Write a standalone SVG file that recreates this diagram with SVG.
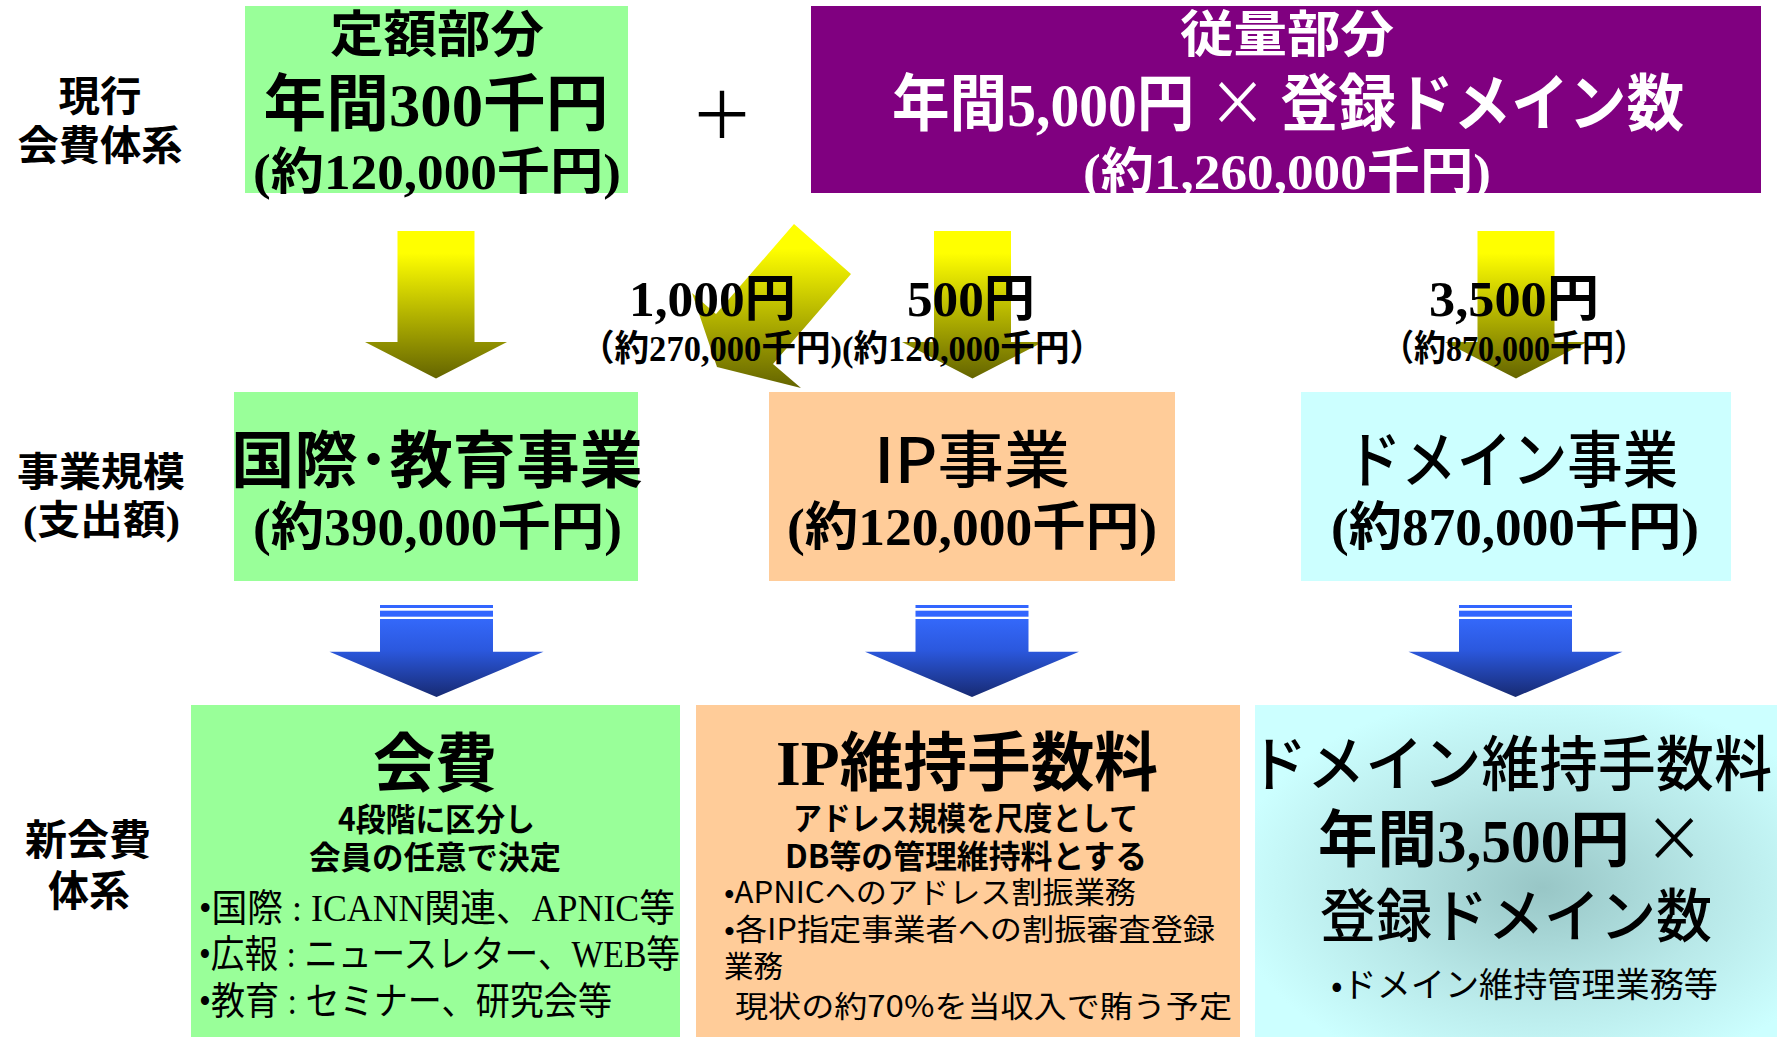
<svg xmlns="http://www.w3.org/2000/svg" width="1784" height="1037" viewBox="0 0 1784 1037">
<style>
.b{font-family:'Liberation Serif','Noto Sans CJK JP',serif;font-weight:bold;fill:#000}
.r{font-family:'Liberation Serif','Noto Sans CJK JP',serif;font-weight:normal;fill:#000}
.sb{font-family:'Noto Sans CJK JP','Liberation Sans',sans-serif;font-weight:bold;fill:#000}
.sm{font-family:'Noto Sans CJK JP','Liberation Sans',sans-serif;font-weight:500;fill:#000}
.s{font-family:'Noto Sans CJK JP','Liberation Sans',sans-serif;font-weight:normal;fill:#000}
.x{font-family:'Noto Sans CJK JP',sans-serif;font-weight:normal}
.m{text-anchor:middle}
.w{fill:#fff}
.green{fill:#99FF99}
.orange{fill:#FFCC99}
.cyan{fill:#CCFFFF}
.purple{fill:#800080}
.ya{fill:url(#yg)}
.ba{fill:url(#bg)}
.st{fill:#3366FF}
</style>
<defs>
<linearGradient id="yg" x1="0" y1="0" x2="0" y2="1">
<stop offset="0" stop-color="#FFFF00"/>
<stop offset="0.15" stop-color="#FFFF00"/>
<stop offset="1" stop-color="#646400"/>
</linearGradient>
<linearGradient id="ygd" gradientUnits="userSpaceOnUse" x1="0" y1="224" x2="0" y2="388">
<stop offset="0" stop-color="#FFFF00"/>
<stop offset="0.15" stop-color="#FFFF00"/>
<stop offset="1" stop-color="#646400"/>
</linearGradient>
<linearGradient id="bg" x1="0" y1="0" x2="0" y2="1">
<stop offset="0" stop-color="#3468FA"/>
<stop offset="0.4" stop-color="#2B58DE"/>
<stop offset="1" stop-color="#172A72"/>
</linearGradient>
<radialGradient id="cg" cx="0.55" cy="0.55" r="0.6">
<stop offset="0" stop-color="#98C6C6"/>
<stop offset="0.55" stop-color="#B8E8E8"/>
<stop offset="1" stop-color="#CCFFFF"/>
</radialGradient>
</defs>
<rect width="1784" height="1037" fill="#fff"/>

<g id="row-labels">
<text class="b m" x="100" y="111" font-size="41" textLength="83" lengthAdjust="spacingAndGlyphs">現行</text>
<text class="b m" x="100" y="160" font-size="41" textLength="165" lengthAdjust="spacingAndGlyphs">会費体系</text>
<text class="b m" x="101" y="486" font-size="40" textLength="168" lengthAdjust="spacingAndGlyphs">事業規模</text>
<text class="b m" x="101.5" y="534" font-size="40" textLength="157" lengthAdjust="spacingAndGlyphs">(支出額)</text>
<text class="b m" x="88" y="855" font-size="42" textLength="126" lengthAdjust="spacingAndGlyphs">新会費</text>
<text class="b m" x="89" y="906" font-size="42" textLength="82" lengthAdjust="spacingAndGlyphs">体系</text>
</g>

<g id="node-fixed">
<rect class="green" x="245" y="6" width="383" height="187"/>
<text class="b m" x="437" y="52" font-size="50" textLength="214" lengthAdjust="spacingAndGlyphs">定額部分</text>
<text class="b m" x="436" y="126" font-size="62" textLength="345" lengthAdjust="spacingAndGlyphs">年間300千円</text>
<text class="b m" x="437" y="189" font-size="50" textLength="368" lengthAdjust="spacingAndGlyphs">(約120,000千円)</text>
</g>

<g id="plus">
<text class="s m" x="722" y="138" font-size="64">＋</text>
</g>

<g id="node-variable">
<rect class="purple" x="811" y="6" width="950" height="187"/>
<text class="b m w" x="1287" y="52" font-size="50" textLength="214" lengthAdjust="spacingAndGlyphs">従量部分</text>
<text class="b m w" x="1288" y="126" font-size="62" textLength="792" lengthAdjust="spacingAndGlyphs">年間5,000円 <tspan class="x">×</tspan> 登録ドメイン数</text>
<text class="b m w" x="1287" y="189" font-size="50" textLength="408" lengthAdjust="spacingAndGlyphs">(約1,260,000千円)</text>
</g>

<g id="connectors">
<path class="ya" d="M397.5,231 H474.5 V342 H507 L436,378.5 L365,342 H397.5 Z"/>
<path fill="url(#ygd)" d="M794,224 L851,274 L773,364 L801,388 L717,367 L692,293 L716,314 Z"/>
<path class="ya" d="M934,231 H1011 V342 H1043 L972.5,378.5 L902,342 H934 Z"/>
<path class="ya" d="M1477.5,231 H1554.5 V342 H1587 L1516,378.5 L1445,342 H1477.5 Z"/>

<rect class="st" x="380" y="605" width="113" height="3"/>
<rect class="st" x="380" y="610.7" width="113" height="6"/>
<path class="ba" d="M380,619 H493 V651.7 H543.5 L436.5,697 L329.5,651.7 H380 Z"/>
<rect class="st" x="915.5" y="605" width="113" height="3"/>
<rect class="st" x="915.5" y="610.7" width="113" height="6"/>
<path class="ba" d="M915.5,619 H1028.5 V651.7 H1079 L972,697 L865,651.7 H915.5 Z"/>
<rect class="st" x="1459" y="605" width="113" height="3"/>
<rect class="st" x="1459" y="610.7" width="113" height="6"/>
<path class="ba" d="M1459,619 H1572 V651.7 H1622.5 L1515.5,697 L1408.5,651.7 H1459 Z"/>

<text class="b m" x="712.5" y="316" font-size="50" textLength="167" lengthAdjust="spacingAndGlyphs">1,000円</text>
<text class="b m" x="971" y="316" font-size="50" textLength="128" lengthAdjust="spacingAndGlyphs">500円</text>
<text class="b m" x="1514" y="316" font-size="50" textLength="170" lengthAdjust="spacingAndGlyphs">3,500円</text>
<text class="b m" x="842" y="361" font-size="36" textLength="524" lengthAdjust="spacingAndGlyphs">（約270,000千円)(約120,000千円）</text>
<text class="b m" x="1514" y="361" font-size="36" textLength="264" lengthAdjust="spacingAndGlyphs">（約870,000千円）</text>
</g>

<g id="node-intl">
<rect class="green" x="234" y="392" width="404" height="189"/>
<text class="sb m" x="437" y="483" font-size="62" textLength="412" lengthAdjust="spacingAndGlyphs">国際･教育事業</text>
<text class="b m" x="437.5" y="545" font-size="52" textLength="369" lengthAdjust="spacingAndGlyphs">(約390,000千円)</text>
</g>

<g id="node-ip">
<rect class="orange" x="769" y="392" width="406" height="189"/>
<text class="sm m" x="972" y="483" font-size="62" textLength="196" lengthAdjust="spacingAndGlyphs">IP事業</text>
<text class="b m" x="972" y="545" font-size="52" textLength="370" lengthAdjust="spacingAndGlyphs">(約120,000千円)</text>
</g>

<g id="node-domain">
<rect class="cyan" x="1301" y="392" width="430" height="189"/>
<text class="sm m" x="1512" y="483" font-size="62" textLength="332" lengthAdjust="spacingAndGlyphs">ドメイン事業</text>
<text class="b m" x="1515" y="545" font-size="52" textLength="368" lengthAdjust="spacingAndGlyphs">(約870,000千円)</text>
</g>

<g id="node-fee">
<rect class="green" x="191" y="705" width="489" height="332"/>
<text class="sb m" x="435" y="786" font-size="64" textLength="124" lengthAdjust="spacingAndGlyphs">会費</text>
<text class="sb m" x="436.5" y="831" font-size="32" textLength="197" lengthAdjust="spacingAndGlyphs">4段階に区分し</text>
<text class="sb m" x="435" y="869" font-size="32" textLength="252" lengthAdjust="spacingAndGlyphs">会員の任意で決定</text>
<text class="r" x="199" y="921" font-size="38" textLength="476" lengthAdjust="spacingAndGlyphs">•国際 : ICANN関連、APNIC等</text>
<text class="r" x="199" y="967" font-size="38" textLength="481" lengthAdjust="spacingAndGlyphs">•広報 : ニュースレター、WEB等</text>
<text class="r" x="199" y="1014" font-size="38" textLength="413" lengthAdjust="spacingAndGlyphs">•教育 : セミナー、研究会等</text>
</g>

<g id="node-ipfee">
<rect class="orange" x="696" y="705" width="544" height="332"/>
<text class="b m" x="967" y="785" font-size="64" textLength="382" lengthAdjust="spacingAndGlyphs">IP維持手数料</text>
<text class="sb m" x="965.5" y="830" font-size="32" textLength="345" lengthAdjust="spacingAndGlyphs">アドレス規模を尺度として</text>
<text class="sb m" x="966" y="868" font-size="32" textLength="362" lengthAdjust="spacingAndGlyphs">DB等の管理維持料とする</text>
<text class="s" x="724" y="903" font-size="30" textLength="412" lengthAdjust="spacingAndGlyphs">•APNICへのアドレス割振業務</text>
<text class="s" x="724" y="940" font-size="30" textLength="491" lengthAdjust="spacingAndGlyphs">•各IP指定事業者への割振審査登録</text>
<text class="s" x="724" y="977" font-size="30" textLength="59" lengthAdjust="spacingAndGlyphs">業務</text>
<text class="s" x="735" y="1017" font-size="30" textLength="497" lengthAdjust="spacingAndGlyphs">現状の約70%を当収入で賄う予定</text>
</g>

<g id="node-domainfee">
<rect fill="url(#cg)" x="1255" y="705" width="522" height="332"/>
<text class="sm m" x="1510.5" y="786" font-size="60" textLength="523" lengthAdjust="spacingAndGlyphs">ドメイン維持手数料</text>
<text class="b m" x="1511" y="862" font-size="62" textLength="386" lengthAdjust="spacingAndGlyphs">年間3,500円 <tspan class="x">×</tspan></text>
<text class="sm m" x="1516" y="937" font-size="58" textLength="392" lengthAdjust="spacingAndGlyphs">登録ドメイン数</text>
<text class="s m" x="1524.5" y="997" font-size="34" textLength="387" lengthAdjust="spacingAndGlyphs">•ドメイン維持管理業務等</text>
</g>
</svg>
